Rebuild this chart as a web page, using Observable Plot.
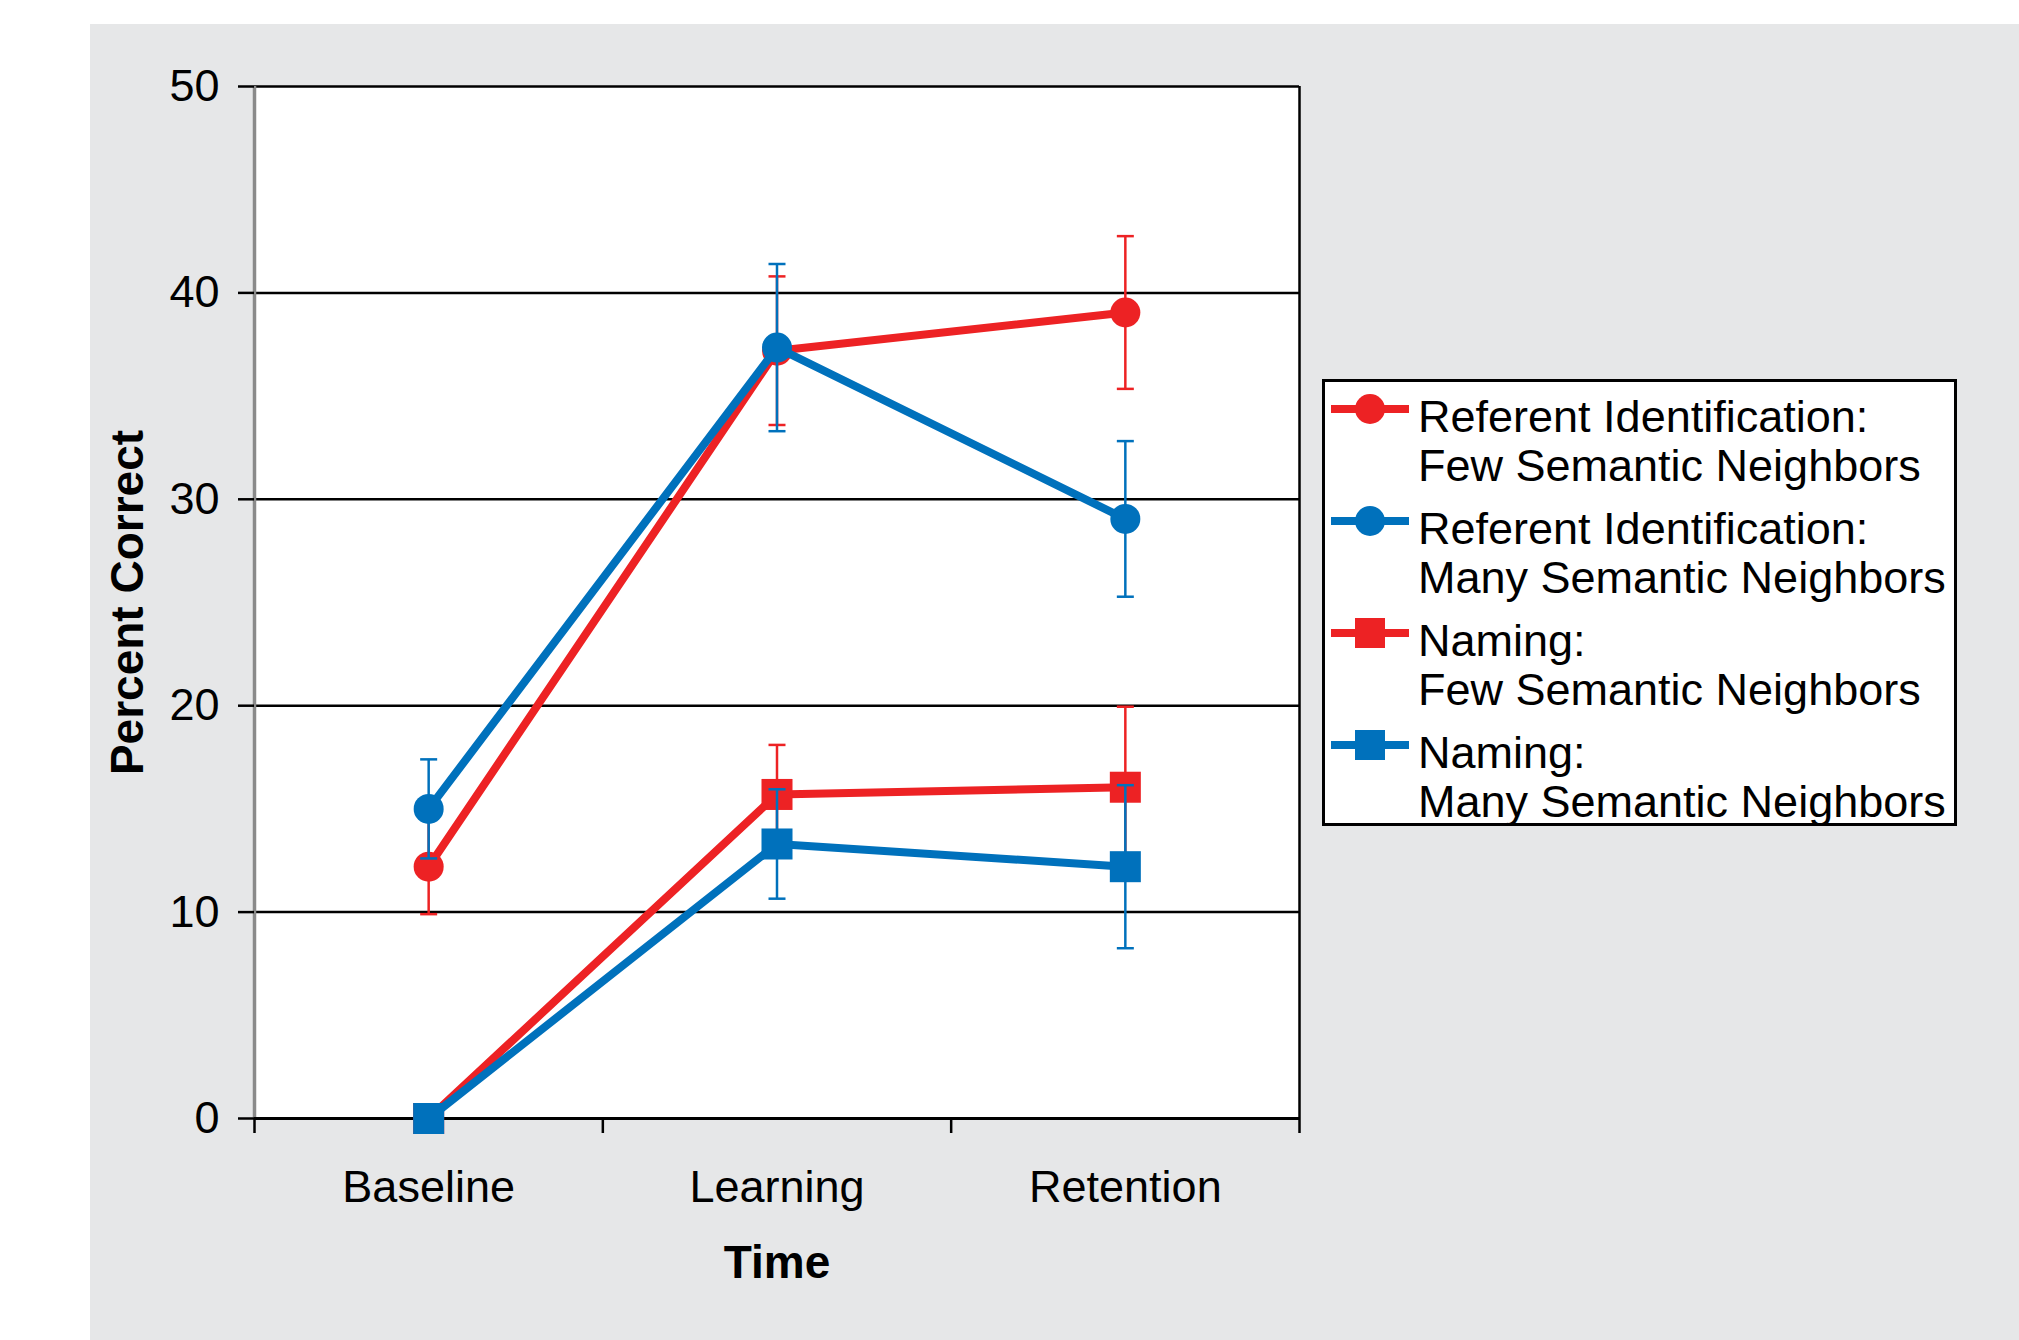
<!DOCTYPE html>
<html>
<head>
<meta charset="utf-8">
<script src="https://cdn.jsdelivr.net/npm/d3@7"></script>
<script src="https://cdn.jsdelivr.net/npm/@observablehq/plot@0.6"></script>
<style>
  html, body { margin: 0; padding: 0; background: #ffffff; }
  #page { position: relative; width: 2019px; height: 1340px; overflow: hidden; background: #ffffff;
          font-family: "Liberation Sans", Arial, Helvetica, sans-serif; }
  #panel { position: absolute; left: 90px; top: 24px; width: 1929px; height: 1316px; background: #e6e7e8; }
  #chart { position: absolute; left: 0; top: 0; }
  #legend { position: absolute; left: 1232px; top: 355px; width: 635px; height: 447px;
            box-sizing: border-box; border: 3px solid #000; background: #fff; }
  .entry { position: absolute; left: 0; }
  .entry svg { position: absolute; left: 6px; top: 1px; }
  .entry .label { position: absolute; left: 93px; top: 0; font-size: 45px; line-height: 49px;
                  white-space: nowrap; color: #000; }
</style>
</head>
<body>
<div id="page">
  <div id="panel">
    <div id="chart"></div>
    <div id="legend"></div>
  </div>
</div>
<script>
// ---------- data ----------
const categories = ["Baseline", "Learning", "Retention"];
const yTicks = [0, 10, 20, 30, 40, 50];

const seriesLabels = [
  ["Referent Identification:", "Few Semantic Neighbors"],
  ["Referent Identification:", "Many Semantic Neighbors"],
  ["Naming:", "Few Semantic Neighbors"],
  ["Naming:", "Many Semantic Neighbors"]
];
const seriesColors = ["#ED2224", "#0071BC", "#ED2224", "#0071BC"];
const seriesSymbols = ["circle", "circle", "square", "square"];

const refFewValues  = [12.2, 37.2, 39.05];
const refFewErrors  = [2.3, 3.6, 3.7];
const refManyValues = [15.0, 37.35, 29.05];
const refManyErrors = [2.4, 4.05, 3.77];
const namFewValues  = [0, 15.7, 16.05];
const namFewErrors  = [0, 2.4, 3.9];
const namManyValues = [0, 13.3, 12.2];
const namManyErrors = [0, 2.65, 3.95];

const seriesValues = [refFewValues, refManyValues, namFewValues, namManyValues];
const seriesErrors = [refFewErrors, refManyErrors, namFewErrors, namManyErrors];

// ---------- chart ----------
const W = 1929, H = 1316;
const FONT = '"Liberation Sans", Arial, Helvetica, sans-serif';

// horizontal error-bar cap as a custom symbol
const capSymbol = {
  draw(context, size) {
    const w = Math.sqrt(size / Math.PI);
    context.moveTo(-w, 0);
    context.lineTo(w, 0);
  }
};

const marks = [
  Plot.frame({fill: "white", stroke: "none"}),
  Plot.ruleY(yTicks.filter(d => d > 0), {stroke: "#000", strokeWidth: 2.5}),
  Plot.ruleX([categories.length], {stroke: "#000", strokeWidth: 2.5}),
  Plot.ruleX([0], {stroke: "#8a8a8a", strokeWidth: 3.5}),
  Plot.ruleY([0], {stroke: "#000", strokeWidth: 3}),
  Plot.axisY({ticks: yTicks, tickSize: 16, tickPadding: 19, strokeWidth: 2.5, stroke: "#000",
              fontSize: 45, label: null, tickFormat: d => String(d)}),
  Plot.axisX({ticks: d3.range(categories.length + 1), tickSize: 15, strokeWidth: 2.5, stroke: "#000",
              tickFormat: () => "", label: null}),
  Plot.axisX(categories.map((c, i) => i + 0.5), {tickSize: 0, tickPadding: 52, fontSize: 45,
              tickFormat: v => categories[Math.floor(v)], label: null}),
  Plot.text(["Percent Correct"], {text: d => d, frameAnchor: "left", dx: -126, rotate: -90,
              textAnchor: "middle", lineAnchor: "middle", fontWeight: "bold", fontSize: 46, fill: "#000"}),
  Plot.text(["Time"], {text: d => d, frameAnchor: "bottom", dy: 145, textAnchor: "middle",
              lineAnchor: "middle", fontWeight: "bold", fontSize: 46, fill: "#000"})
];

seriesValues.forEach((vals, si) => {
  const color = seriesColors[si];
  const sym = seriesSymbols[si];
  const rows = vals.map((v, i) => ({x: i + 0.5, y: v, err: seriesErrors[si][i]}));
  const errRows = rows.filter(r => r.err > 0);
  marks.push(
    Plot.line(rows, {x: "x", y: "y", stroke: color, strokeWidth: 8}),
    Plot.ruleX(errRows, {x: "x", y1: r => r.y - r.err, y2: r => r.y + r.err, stroke: color, strokeWidth: 2.5}),
    Plot.dot(errRows, {x: "x", y: r => r.y + r.err, symbol: capSymbol, r: 8.5, stroke: color, strokeWidth: 2.5, fill: "none"}),
    Plot.dot(errRows, {x: "x", y: r => r.y - r.err, symbol: capSymbol, r: 8.5, stroke: color, strokeWidth: 2.5, fill: "none"}),
    Plot.dot(rows, {x: "x", y: "y", symbol: sym, r: sym === "circle" ? 15 : 17.5, fill: color, stroke: "none"})
  );
});

const chart = Plot.plot({
  width: W,
  height: H,
  marginLeft: 164,
  marginRight: 720,
  marginTop: 62,
  marginBottom: 222,
  x: {domain: [0, categories.length]},
  y: {domain: [0, 50]},
  style: {fontFamily: FONT, fontSize: "45px", background: "transparent", color: "#000", overflow: "visible"},
  marks
});
document.getElementById("chart").appendChild(chart);

// ---------- legend ----------
const legend = d3.select("#legend");
seriesLabels.forEach((lines, i) => {
  const entry = legend.append("div").attr("class", "entry").style("top", (10 + 112 * i) + "px");
  const svg = entry.append("svg").attr("width", 78).attr("height", 32);
  svg.append("line").attr("x1", 0).attr("x2", 78).attr("y1", 16).attr("y2", 16)
     .attr("stroke", seriesColors[i]).attr("stroke-width", 8);
  if (seriesSymbols[i] === "circle") {
    svg.append("circle").attr("cx", 39).attr("cy", 16).attr("r", 15).attr("fill", seriesColors[i]);
  } else {
    svg.append("rect").attr("x", 24).attr("y", 1).attr("width", 30).attr("height", 30).attr("fill", seriesColors[i]);
  }
  const label = entry.append("div").attr("class", "label");
  lines.forEach((t) => { label.append("div").text(t); });
});
</script>
</body>
</html>
